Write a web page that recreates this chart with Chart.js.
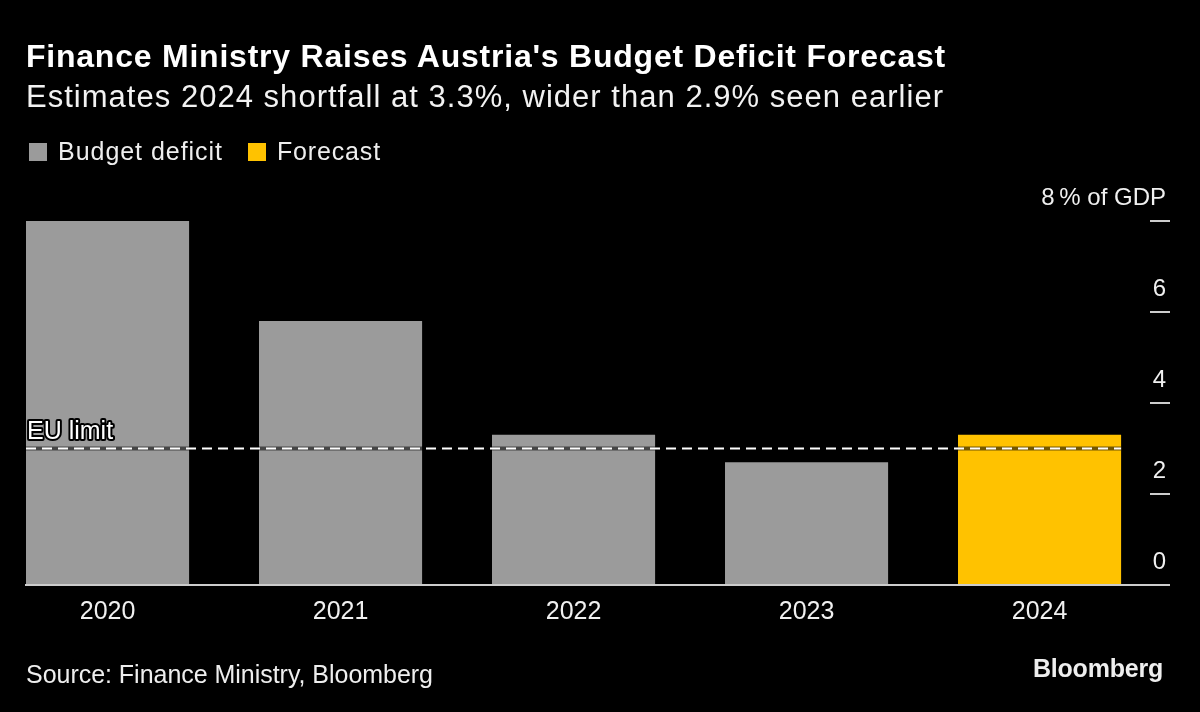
<!DOCTYPE html>
<html>
<head>
<meta charset="utf-8">
<script src="https://cdn.jsdelivr.net/npm/chart.js@4"></script>
<style>
  html, body { margin: 0; padding: 0; background: #000; }
  body { width: 1200px; height: 712px; position: relative; overflow: hidden; font-family: "Liberation Sans", Arial, sans-serif; color: #fff; }
  .t { position: absolute; white-space: nowrap; line-height: normal; }
  #title { left: 26px; top: 38px; font-size: 32px; font-weight: bold; }
  #subtitle { left: 26px; top: 79px; font-size: 31px; color: #f2f2f2; }
  #legend { position: absolute; left: 29px; top: 137px; font-size: 25px; color: #eee; line-height: normal; }
  .item { display: flex; align-items: center; position: absolute; top: 0; white-space: nowrap; }
  .box { width: 18px; height: 18px; margin-right: 11px; }
  #source { left: 26px; top: 660px; font-size: 25px; color: #eee; }
  #logo { left: 1033px; top: 654px; font-size: 25px; font-weight: bold; color: #eee; }
  #wrap { position: absolute; left: 0; top: 0; width: 1200px; height: 712px; }
</style>
</head>
<body>
<div id="wrap"><canvas id="c" width="1200" height="712"></canvas></div>
<div id="title" class="t">Finance Ministry Raises Austria's Budget Deficit Forecast</div>
<div id="subtitle" class="t">Estimates 2024 shortfall at 3.3%, wider than 2.9% seen earlier</div>
<div id="legend"></div>
<div id="source" class="t">Source: Finance Ministry, Bloomberg</div>
<div id="logo" class="t">Bloomberg</div>
<script>
const categories = ['2020', '2021', '2022', '2023', '2024'];
const budgetDeficit = [8.0, 5.8, 3.3, 2.7, null];
const forecast = [null, null, null, null, 3.3];
const euLimit = 3.0;
const yTicks = [0, 2, 4, 6, 8];
const seriesNames = ['Budget deficit', 'Forecast'];
const seriesColors = ['#9b9b9b', '#ffc200'];

const toPoints = arr => arr.map((v, i) => ({ x: i, y: v })).filter(p => p.y !== null);
const lineStart = -0.35, lineEnd = categories.length - 1 + 0.35;

// stretch text to the reference's measured width via letter-spacing
function fitWidth(el, target) {
  el.style.letterSpacing = '0px';
  const w = el.getBoundingClientRect().width;
  const n = el.textContent.length;
  el.style.letterSpacing = ((target - w) / n) + 'px';
}

// HTML legend from series arrays
const leg = document.getElementById('legend');
const legLeft = [0, 219];
const legWidths = [165, 104];
seriesNames.forEach((n, i) => {
  const it = document.createElement('div'); it.className = 'item';
  it.style.left = legLeft[i] + 'px';
  const b = document.createElement('div'); b.className = 'box'; b.style.background = seriesColors[i];
  const t = document.createElement('span'); t.textContent = n; t.style.whiteSpace = 'nowrap';
  it.appendChild(b); it.appendChild(t); leg.appendChild(it);
  fitWidth(t, legWidths[i]);
});
fitWidth(document.getElementById('title'), 920);
fitWidth(document.getElementById('subtitle'), 918);
fitWidth(document.getElementById('source'), 407);
fitWidth(document.getElementById('logo'), 130);

const euLabel = {
  id: 'euLabel',
  afterDatasetsDraw(chart) {
    const { ctx, scales: { x, y } } = chart;
    const py = y.getPixelForValue(euLimit);
    const px = x.getPixelForValue(lineStart);
    ctx.save();
    ctx.font = '25px "Liberation Sans", Arial, sans-serif';
    ctx.textAlign = 'left';
    ctx.textBaseline = 'alphabetic';
    ctx.lineWidth = 4;
    ctx.strokeStyle = '#000';
    ctx.lineJoin = 'round';
    ctx.strokeText('EU limit', px + 1, py - 10);
    ctx.fillStyle = '#fff';
    ctx.fillText('EU limit', px + 1, py - 10);
    ctx.restore();
  }
};

new Chart(document.getElementById('c'), {
  type: 'bar',
  data: {
    datasets: [
      {
        type: 'line', label: 'EU limit', order: 0,
        data: [{ x: lineStart, y: euLimit }, { x: lineEnd, y: euLimit }],
        borderColor: '#ffffff', borderWidth: 2, borderDash: [10, 6], pointRadius: 0, fill: false
      },
      {
        type: 'line', label: 'EU limit halo', order: 1,
        data: [{ x: lineStart, y: euLimit }, { x: lineEnd, y: euLimit }],
        borderColor: 'rgba(0,0,0,0.55)', borderWidth: 4, pointRadius: 0, fill: false
      },
      {
        label: seriesNames[0], order: 2, data: toPoints(budgetDeficit),
        backgroundColor: seriesColors[0], grouped: false,
        barPercentage: 0.7, categoryPercentage: 1
      },
      {
        label: seriesNames[1], order: 2, data: toPoints(forecast),
        backgroundColor: seriesColors[1], grouped: false,
        barPercentage: 0.7, categoryPercentage: 1
      }
    ]
  },
  options: {
    responsive: false,
    animation: false,
    layout: { padding: { top: 221, left: 26, right: 30, bottom: 73 } },
    plugins: { legend: { display: false }, tooltip: { enabled: false } },
    scales: {
      x: {
        type: 'linear',
        offset: false,
        min: -0.35, max: 4.474,
        afterBuildTicks: s => { s.ticks = categories.map((_, i) => ({ value: i })); },
        afterFit: s => { s.paddingLeft = 0; s.paddingRight = 0; },
        grid: { display: false, drawTicks: false, offset: false },
        border: { display: true, color: '#cccccc', width: 2 },
        ticks: {
          color: '#f0f0f0', padding: 12,
          font: { family: '"Liberation Sans", Arial, sans-serif', size: 25 },
          callback: v => categories[v],
          maxRotation: 0, autoSkip: false
        }
      },
      y: {
        position: 'right',
        min: 0, max: 8,
        afterBuildTicks: s => { s.ticks = yTicks.map(v => ({ value: v })); },
        afterFit: s => { s.width = 20; },
        grid: { drawOnChartArea: false, drawTicks: true, tickLength: 20, color: '#cccccc', lineWidth: 2 },
        border: { display: false },
        ticks: {
          mirror: true, padding: 16, labelOffset: -23,
          color: '#f0f0f0',
          font: { family: '"Liberation Sans", Arial, sans-serif', size: 24 },
          callback: v => v === 8 ? '8\u2009% of GDP' : String(v)
        }
      }
    }
  },
  plugins: [euLabel]
});
</script>
</body>
</html>
